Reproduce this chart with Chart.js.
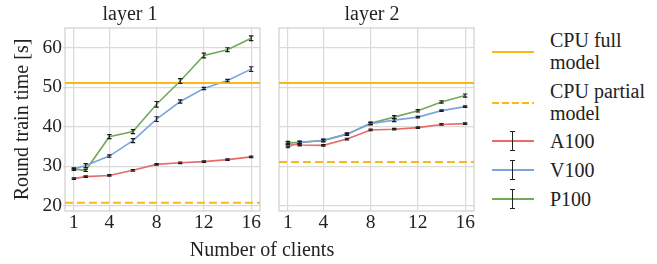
<!DOCTYPE html>
<html><head><meta charset="utf-8">
<script src="https://cdn.jsdelivr.net/npm/chart.js@4.4.1/dist/chart.umd.min.js"></script>
<style>
html,body{margin:0;padding:0;background:#fff;width:657px;height:264px;overflow:hidden;font-family:"Liberation Serif",serif;color:#222}
canvas{position:absolute;top:0}
#c1{left:0}
#c2{left:270px}
.t{position:absolute;font-size:20px;line-height:22px;white-space:nowrap}
.ln{position:absolute;height:2px;width:42px;left:492px}
.eb{position:absolute;left:512px;width:1px;height:20px;background:#222}
.cap{position:absolute;left:510px;width:5px;height:1px;background:#222}
</style></head>
<body>
<canvas id="c1" width="262" height="264"></canvas>
<canvas id="c2" width="206" height="264"></canvas>
<div class="t" id="xt" style="left:0;width:524px;text-align:center;top:238px">Number of clients</div>
<div id="legend"></div>
<script>
const clients = [1,2,4,6,8,10,12,14,16];
const xTicks = [1,4,8,12,16];
const yTicks = [20,30,40,50,60];
const panelTitles = ['layer 1','layer 2'];
const seriesNames = ['A100','V100','P100'];
const cpuNames = ['CPU full model','CPU partial model'];
const cpuFull = [51.1, 51.1];
const cpuPartial = [20.8, 31.1];
const a100L1 = [26.9,27.4,27.7,29.0,30.5,30.9,31.2,31.7,32.4];
const v100L1 = [29.3,30.2,32.6,36.5,41.95,46.4,49.7,51.7,54.6];
const p100L1 = [29.3,29.0,37.5,38.8,45.7,51.6,58.05,59.5,62.4];
const a100L2 = [35.7,35.4,35.3,36.9,39.2,39.4,39.8,40.6,40.8];
const v100L2 = [34.9,36.0,36.6,38.15,40.8,41.7,42.45,44.1,45.1];
const p100L2 = [36.0,36.1,36.5,38.15,40.9,42.45,44.05,46.3,47.9];
const a100L1err = [0.2,0.2,0.2,0.2,0.2,0.2,0.2,0.2,0.2];
const v100L1err = [0.2,0.5,0.3,0.5,0.6,0.4,0.3,0.3,0.6];
const p100L1err = [0.3,0.3,0.5,0.5,0.7,0.6,0.6,0.5,0.6];
const a100L2err = [0.2,0.2,0.2,0.2,0.2,0.2,0.2,0.2,0.2];
const v100L2err = [0.2,0.3,0.3,0.2,0.3,0.4,0.2,0.2,0.2];
const p100L2err = [0.3,0.3,0.3,0.3,0.3,0.4,0.3,0.3,0.4];

const X_MIN = 0.25, X_MAX = 16.75, Y_MIN = 18.7, Y_MAX = 65;
const FONT = '"Liberation Serif", serif';
const TXT = '#222';
const CPU_COLOR = '#fbb917';
const COLORS = ['#e86a6a','#7aa5e0','#72a95a'];
const GRID = '#dadada';

const pts = (vals) => clients.map((c,i)=>({x:c,y:vals[i]}));
const hline = (v) => [{x:X_MIN,y:v},{x:X_MAX,y:v}];

const framePlugin = {
  id:'frame',
  beforeDatasetsDraw(chart){
    const a = chart.chartArea, ctx = chart.ctx;
    ctx.save(); ctx.strokeStyle = '#cfcfcf'; ctx.lineWidth = 1.2;
    ctx.strokeRect(a.left, a.top, a.right-a.left, a.bottom-a.top);
    ctx.restore();
  }
};
const errPlugin = {
  id:'errbars',
  afterDatasetsDraw(chart){
    const ctx = chart.ctx, xs = chart.scales.x, ys = chart.scales.y;
    ctx.save(); ctx.strokeStyle = '#1a1a1a'; ctx.lineWidth = 1.2;
    chart.data.datasets.forEach(ds=>{
      if(!ds.err) return;
      ds.data.forEach((p,i)=>{
        const px = xs.getPixelForValue(p.x);
        const y1 = ys.getPixelForValue(p.y - ds.err[i]);
        const y2 = ys.getPixelForValue(p.y + ds.err[i]);
        ctx.beginPath();
        ctx.moveTo(px, y1); ctx.lineTo(px, y2);
        ctx.moveTo(px-2.2, y1); ctx.lineTo(px+2.2, y1);
        ctx.moveTo(px-2.2, y2); ctx.lineTo(px+2.2, y2);
        ctx.stroke();
      });
    });
    ctx.restore();
  }
};

function makePanel(id, idx, series, errs, showY){
  const datasets = [
    {label:cpuNames[0], data:hline(cpuFull[idx]), borderColor:CPU_COLOR, borderWidth:2},
    {label:cpuNames[1], data:hline(cpuPartial[idx]), borderColor:CPU_COLOR, borderWidth:2, borderDash:[8,4]},
  ];
  series.forEach((s,i)=>datasets.push({label:seriesNames[i], data:pts(s), err:errs[i], borderColor:COLORS[i], borderWidth:1.6}));
  return new Chart(document.getElementById(id), {
    type:'line',
    data:{datasets},
    plugins:[framePlugin, errPlugin],
    options:{
      responsive:false, animation:false, devicePixelRatio:1,
      layout:{padding:{left:0,right:2,top:0,bottom:0}},
      elements:{point:{radius:0}, line:{tension:0}},
      plugins:{
        legend:{display:false}, tooltip:{enabled:false},
        title:{display:true, text:panelTitles[idx], color:TXT, font:{family:FONT,size:20,weight:'normal'}, padding:{top:3,bottom:1}}
      },
      scales:{
        x:{type:'linear', min:X_MIN, max:X_MAX,
          afterBuildTicks:s=>{s.ticks = xTicks.map(v=>({value:v}));},
          afterFit:s=>{s.height = 53;},
          ticks:{color:TXT, font:{family:FONT,size:19.5}, padding:0, maxRotation:0, autoSkip:false},
          grid:{color:GRID, lineWidth:1.2, drawTicks:false},
          border:{display:false}},
        y:{type:'linear', min:Y_MIN, max:Y_MAX,
          afterBuildTicks:s=>{s.ticks = yTicks.map(v=>({value:v}));},
          afterFit:s=>{s.width = showY ? 65 : 9;},
          ticks:{display:showY, color:TXT, font:{family:FONT,size:19.5}, padding:1},
          grid:{color:GRID, lineWidth:1.2, drawTicks:showY, tickLength:2},
          border:{display:false},
          title:{display:showY, text:'Round train time [s]', color:TXT, font:{family:FONT,size:20}, padding:{top:11,bottom:0}}}
      }
    }
  });
}
makePanel('c1', 0, [a100L1,v100L1,p100L1], [a100L1err,v100L1err,p100L1err], true);
makePanel('c2', 1, [a100L2,v100L2,p100L2], [a100L2err,v100L2err,p100L2err], false);

// legend
const lg = document.getElementById('legend');
const items = [
  {lines:['CPU full','model'], top:29, lineY:52, color:CPU_COLOR, dash:false, eb:false},
  {lines:['CPU partial','model'], top:80, lineY:103, color:CPU_COLOR, dash:true, eb:false},
  {lines:[seriesNames[0]], top:130, lineY:141, color:COLORS[0], eb:true},
  {lines:[seriesNames[1]], top:159, lineY:170, color:COLORS[1], eb:true},
  {lines:[seriesNames[2]], top:188, lineY:199, color:COLORS[2], eb:true},
];
items.forEach(it=>{
  const l = document.createElement('div');
  l.className='ln';
  l.style.top = (it.lineY-1)+'px';
  if(it.dash){ l.style.background = `repeating-linear-gradient(90deg, ${it.color} 0 7px, transparent 7px 10px)`; }
  else l.style.background = it.color;
  lg.appendChild(l);
  if(it.eb){
    const e = document.createElement('div'); e.className='eb'; e.style.top=(it.lineY-10)+'px'; lg.appendChild(e);
    const c1 = document.createElement('div'); c1.className='cap'; c1.style.top=(it.lineY-10)+'px'; lg.appendChild(c1);
    const c2 = document.createElement('div'); c2.className='cap'; c2.style.top=(it.lineY+9)+'px'; lg.appendChild(c2);
  }
  const t = document.createElement('div');
  t.className='t'; t.style.left='550px'; t.style.top=it.top+'px';
  t.innerHTML = it.lines.join('<br>');
  lg.appendChild(t);
});
</script>
</body></html>
